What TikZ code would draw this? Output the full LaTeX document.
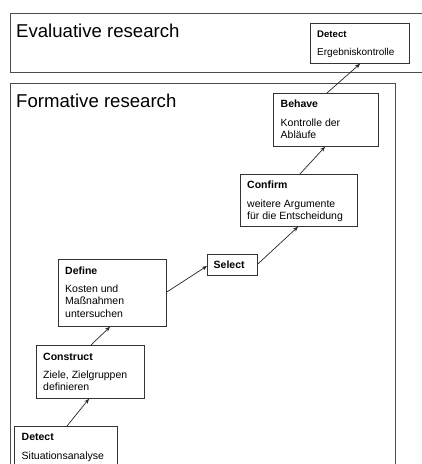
\documentclass[tikz,border=0pt]{standalone}
\usepackage{fontspec}
\setmainfont{Liberation Sans}
\usetikzlibrary{arrows.meta}
\begin{document}
\begin{tikzpicture}[x=1pt,y=-1pt,
  frame/.style={draw=black!70, line width=0.8pt},
  stepbox/.style={draw=black!80, line width=0.8pt, rectangle, inner sep=0pt, anchor=north west},
  heading/.style={font=\fontsize{18.6}{22}\selectfont, anchor=base west, inner sep=0pt},
  boxtitle/.style={font=\fontsize{10.5}{12.5}\selectfont\bfseries, anchor=base west, inner sep=0pt},
  boxbody/.style={font=\fontsize{10.5}{12.5}\selectfont, anchor=base west, inner sep=0pt, align=left},
  small/.style={font=\fontsize{10}{11}\selectfont},
  smallbf/.style={font=\fontsize{9.6}{11}\selectfont\bfseries},
  flow/.style={draw=black!85, line width=0.7pt, -{Stealth[length=5pt,width=4pt]}}
]
\useasboundingbox (0,0) rectangle (422,464);
\clip (0,0) rectangle (422,464);

% research phases
\draw[frame] (10,13) rectangle (440,72);
\draw[frame] (10,83) rectangle (395,490);
\node[heading] (evalhead) at (16,37) {Evaluative research};
\node[heading] (formhead) at (16,107) {Formative research};

% step boxes
\node[stepbox, minimum width=99, minimum height=40] (detE) at (310,23) {};
\node[stepbox, minimum width=105, minimum height=53] (behave) at (273,93) {};
\node[stepbox, minimum width=117, minimum height=52] (confirm) at (240,174) {};
\node[stepbox, minimum width=50, minimum height=21] (select) at (207,254) {};
\node[stepbox, minimum width=108, minimum height=67] (define) at (58,259) {};
\node[stepbox, minimum width=108, minimum height=53] (construct) at (36,345) {};
\node[stepbox, minimum width=103, minimum height=70] (detS) at (14,426) {};

% box texts (multi-line bodies sit on the baseline of their last line)
\node[boxtitle, smallbf] (detE-t) at ([xshift=7pt,yshift=-14pt]detE.north west) {Detect};
\node[boxbody, small] (detE-b) at ([yshift=-18pt]detE-t.base west) {Ergebniskontrolle};
\node[boxtitle] (behave-t) at ([xshift=7.5pt,yshift=-14.5pt]behave.north west) {Behave};
\node[boxbody] (behave-b) at ([yshift=-31pt]behave-t.base west) {Kontrolle der\\Abläufe};
\node[boxtitle] (confirm-t) at ([xshift=7pt,yshift=-14pt]confirm.north west) {Confirm};
\node[boxbody] (confirm-b) at ([yshift=-31.5pt]confirm-t.base west) {weitere Argumente\\für die Entscheidung};
\node[boxtitle] (select-t) at ([xshift=6.5pt,yshift=-14pt]select.north west) {Select};
\node[boxtitle] (define-t) at ([xshift=7pt,yshift=-15pt]define.north west) {Define};
\node[boxbody] (define-b) at ([yshift=-43pt]define-t.base west) {Kosten und\\Maßnahmen\\untersuchen};
\node[boxtitle] (construct-t) at ([xshift=7pt,yshift=-15pt]construct.north west) {Construct};
\node[boxbody] (construct-b) at ([yshift=-30.5pt]construct-t.base west) {Ziele, Zielgruppen\\definieren};
\node[boxtitle] (detS-t) at ([xshift=7.5pt,yshift=-14.5pt]detS.north west) {Detect};
\node[boxbody] (detS-b) at ([yshift=-18.5pt]detS-t.base west) {Situationsanalyse};

% flow between steps
\draw[flow] ([xshift=53pt]detS.north west) -- ([xshift=53pt]construct.south west);
\draw[flow] ([xshift=55pt]construct.north west) -- ([xshift=52pt]define.south west);
\draw[flow] ([yshift=-33pt]define.north east) -- ([yshift=-12pt]select.north west);
\draw[flow] ([yshift=-10pt]select.north east) -- ([xshift=58pt]confirm.south west);
\draw[flow] ([xshift=60pt]confirm.north west) -- ([xshift=52pt]behave.south west);
\draw[flow] ([xshift=54pt]behave.north west) -- ([xshift=50pt]detE.south west);
\end{tikzpicture}
\end{document}
